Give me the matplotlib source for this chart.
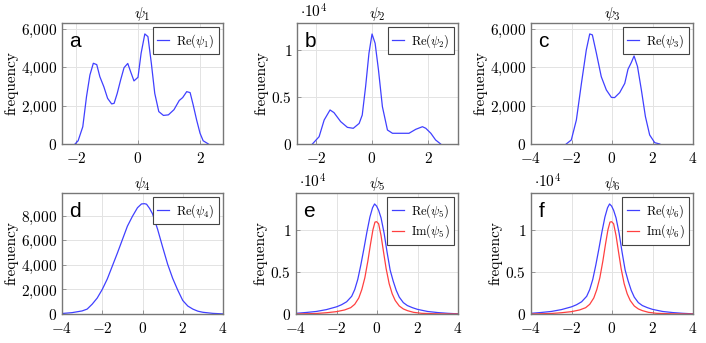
import numpy as np
import matplotlib
matplotlib.use('Agg')
import matplotlib.pyplot as plt
from matplotlib.ticker import FuncFormatter, FixedLocator

plt.rcParams['font.family'] = 'cmr10'
plt.rcParams['mathtext.fontset'] = 'cm'
plt.rcParams['axes.formatter.use_mathtext'] = True
plt.rcParams['font.size'] = 11

a_x = [-2.03, -1.93, -1.78, -1.66, -1.55, -1.44, -1.33, -1.23, -1.10, -0.98, -0.85, -0.77,
       -0.67, -0.56, -0.45, -0.33, -0.24, -0.13, 0.00, 0.10, 0.22, 0.32, 0.43, 0.54, 0.67,
       0.82, 0.98, 1.16, 1.33, 1.44, 1.57, 1.68, 1.78, 1.89, 2.00, 2.10, 2.27]
a_y = [0, 170, 900, 2470, 3600, 4210, 4140, 3510, 2980, 2380, 2090, 2120,
       2640, 3340, 3980, 4200, 3780, 3290, 3480, 4730, 5740, 5600, 4210, 2640, 1690,
       1490, 1520, 1790, 2270, 2420, 2730, 2680, 2030, 1250, 560, 170, 0]

b_x = [-2.13, -1.89, -1.71, -1.50, -1.36, -1.12, -0.88, -0.67, -0.46, -0.35, -0.23, -0.11,
       0.00, 0.11, 0.23, 0.37, 0.55, 0.73, 1.02, 1.32, 1.56, 1.80, 1.92, 2.10, 2.27, 2.45]
b_y = [0, 780, 2550, 3620, 3340, 2380, 1770, 1670, 2190, 3080, 6100, 9650,
       11700, 10710, 7870, 3970, 1490, 1140, 1140, 1140, 1560, 1840, 1670, 1140, 430, 0]

c_x = [-2.26, -2.01, -1.76, -1.51, -1.27, -1.10, -0.97, -0.77, -0.53, -0.28, -0.03, 0.13,
       0.38, 0.63, 0.79, 0.95, 1.09, 1.26, 1.45, 1.65, 1.86, 2.11, 2.36]
c_y = [0, 210, 1250, 3160, 4900, 5740, 5690, 4730, 3510, 2820, 2430, 2420,
       2680, 3160, 3900, 4240, 4590, 4040, 2820, 1430, 470, 70, 0]

d_x = [-4.0, -3.5, -3.0, -2.75, -2.5, -2.25, -2.0, -1.75, -1.5, -1.25, -1.0, -0.75, -0.5,
       -0.25, -0.05, 0.1, 0.2, 0.35, 0.5, 0.75, 1.0, 1.25, 1.5, 1.75, 2.0, 2.25, 2.5,
       2.75, 3.0, 3.5, 4.0]
d_y = [40, 110, 250, 400, 800, 1300, 2000, 2850, 3900, 4950, 6050, 7150, 7950,
       8650, 8960, 8980, 8940, 8600, 8150, 6900, 5450, 4050, 2900, 1950, 1100, 650, 400,
       230, 140, 50, 10]

e_re_x = [-4.0, -3.5, -3.0, -2.5, -2.0, -1.75, -1.5, -1.25, -1.1, -0.95, -0.8, -0.65, -0.5,
          -0.35, -0.22, -0.12, -0.02, 0.08, 0.2, 0.35, 0.5, 0.65, 0.8, 0.95, 1.1, 1.3,
          1.5, 1.75, 2.0, 2.5, 3.0, 3.5, 4.0]
e_re_y = [80, 180, 300, 520, 850, 1100, 1450, 2100, 2900, 4100, 5800, 7700, 9700,
          11500, 12600, 13050, 12800, 12300, 11400, 9600, 7300, 5200, 3900, 2800, 2000, 1350,
          1000, 750, 550, 300, 170, 80, 20]
e_im_x = [-4.0, -3.0, -2.5, -2.0, -1.6, -1.3, -1.1, -0.9, -0.75, -0.6, -0.45, -0.32, -0.2,
          -0.1, -0.02, 0.08, 0.2, 0.32, 0.45, 0.6, 0.75, 0.9, 1.1, 1.3, 1.5, 1.8, 2.2,
          3.0, 4.0]
e_im_y = [0, 60, 150, 280, 480, 750, 1150, 1900, 2900, 4300, 6300, 8300, 10000,
          10900, 10950, 10700, 9300, 7400, 5400, 3600, 2400, 1600, 950, 600, 400, 200, 80,
          20, 0]

# panel f looks the same as panel e
f_re_x = e_re_x
f_re_y = e_re_y
f_im_x = e_im_x
f_im_y = e_im_y

blue = '#4040ff'
red = '#ff4040'

fig = plt.figure(figsize=(7.06, 3.43), dpi=100)
W, H = 706.0, 343.0


def make_ax(left, top, right, bottom):
    return fig.add_axes([left / W, 1 - bottom / H, (right - left) / W, (bottom - top) / H])


def style(ax, xlim, xticks, ylim, yticks, yfmt, title, letter, sci=False):
    ax.set_xlim(*xlim)
    ax.set_ylim(*ylim)
    ax.xaxis.set_major_locator(FixedLocator(xticks))
    ax.yaxis.set_major_locator(FixedLocator(yticks))
    ax.xaxis.set_major_formatter(FuncFormatter(lambda v, p: r'$%d$' % round(v)))
    ax.yaxis.set_major_formatter(FuncFormatter(yfmt))
    ax.grid(True, color='#e3e3e3', lw=0.7)
    ax.set_axisbelow(True)
    for s in ax.spines.values():
        s.set_color('#777777')
        s.set_linewidth(1.0)
    ax.tick_params(direction='in', length=3, width=0.6, color='#888888', labelsize=11)
    ax.tick_params(axis='x', pad=5)
    ax.tick_params(axis='y', pad=3.5)
    ax.set_title(title, fontsize=11, pad=3)
    ax.set_ylabel('frequency', fontsize=11, labelpad=2)
    ax.text(0.045, 0.80, letter, transform=ax.transAxes, family='Liberation Sans',
            fontsize=15, ha='left', va='baseline')
    if sci:
        ax.text(0.02, 1.02, r'$\cdot 10^4$', transform=ax.transAxes, ha='left', va='bottom',
                fontsize=11)
    leg = ax.legend(loc='upper right', fontsize=9, handlelength=1.0, handletextpad=0.5,
                    borderaxespad=0.35, borderpad=0.35, labelspacing=0.25, fancybox=False,
                    framealpha=1, edgecolor='#444444')
    leg.get_frame().set_linewidth(0.8)


def thousands(v, p):
    return '$' + '{:,.0f}'.format(v).replace(',', '{,}') + '$'


def tenk(v, p):
    return '$' + '{:g}'.format(v / 1e4) + '$'


ax = make_ax(62, 23, 223, 144)
ax.plot(a_x, a_y, color=blue, lw=0.9, label=r'$\mathrm{Re}(\psi_1)$')
style(ax, (-2.45, 2.74), [-2, 0, 2], (0, 6310), [0, 2000, 4000, 6000], thousands,
      r'$\psi_1$', 'a')

ax = make_ax(297, 23, 458, 144)
ax.plot(b_x, b_y, color=blue, lw=0.9, label=r'$\mathrm{Re}(\psi_2)$')
style(ax, (-2.68, 3.07), [-2, 0, 2], (0, 12870), [0, 5000, 10000], tenk,
      r'$\psi_2$', 'b', sci=True)

ax = make_ax(531, 23, 693, 144)
ax.plot(c_x, c_y, color=blue, lw=0.9, label=r'$\mathrm{Re}(\psi_3)$')
style(ax, (-4, 4), [-4, -2, 0, 2, 4], (0, 6310), [0, 2000, 4000, 6000], thousands,
      r'$\psi_3$', 'c')

ax = make_ax(62, 193, 223, 314)
ax.plot(d_x, d_y, color=blue, lw=0.9, label=r'$\mathrm{Re}(\psi_4)$')
style(ax, (-4, 4), [-4, -2, 0, 2, 4], (0, 9850), [0, 2000, 4000, 6000, 8000], thousands,
      r'$\psi_4$', 'd')

ax = make_ax(296, 193, 458, 314)
ax.plot(e_re_x, e_re_y, color=blue, lw=0.9, label=r'$\mathrm{Re}(\psi_5)$')
ax.plot(e_im_x, e_im_y, color=red, lw=0.9, label=r'$\mathrm{Im}(\psi_5)$')
style(ax, (-4, 4), [-4, -2, 0, 2, 4], (0, 14350), [0, 5000, 10000], tenk,
      r'$\psi_5$', 'e', sci=True)

ax = make_ax(531, 193, 693, 314)
ax.plot(f_re_x, f_re_y, color=blue, lw=0.9, label=r'$\mathrm{Re}(\psi_6)$')
ax.plot(f_im_x, f_im_y, color=red, lw=0.9, label=r'$\mathrm{Im}(\psi_6)$')
style(ax, (-4, 4), [-4, -2, 0, 2, 4], (0, 14350), [0, 5000, 10000], tenk,
      r'$\psi_6$', 'f', sci=True)

fig.savefig('out.png', dpi=100)
